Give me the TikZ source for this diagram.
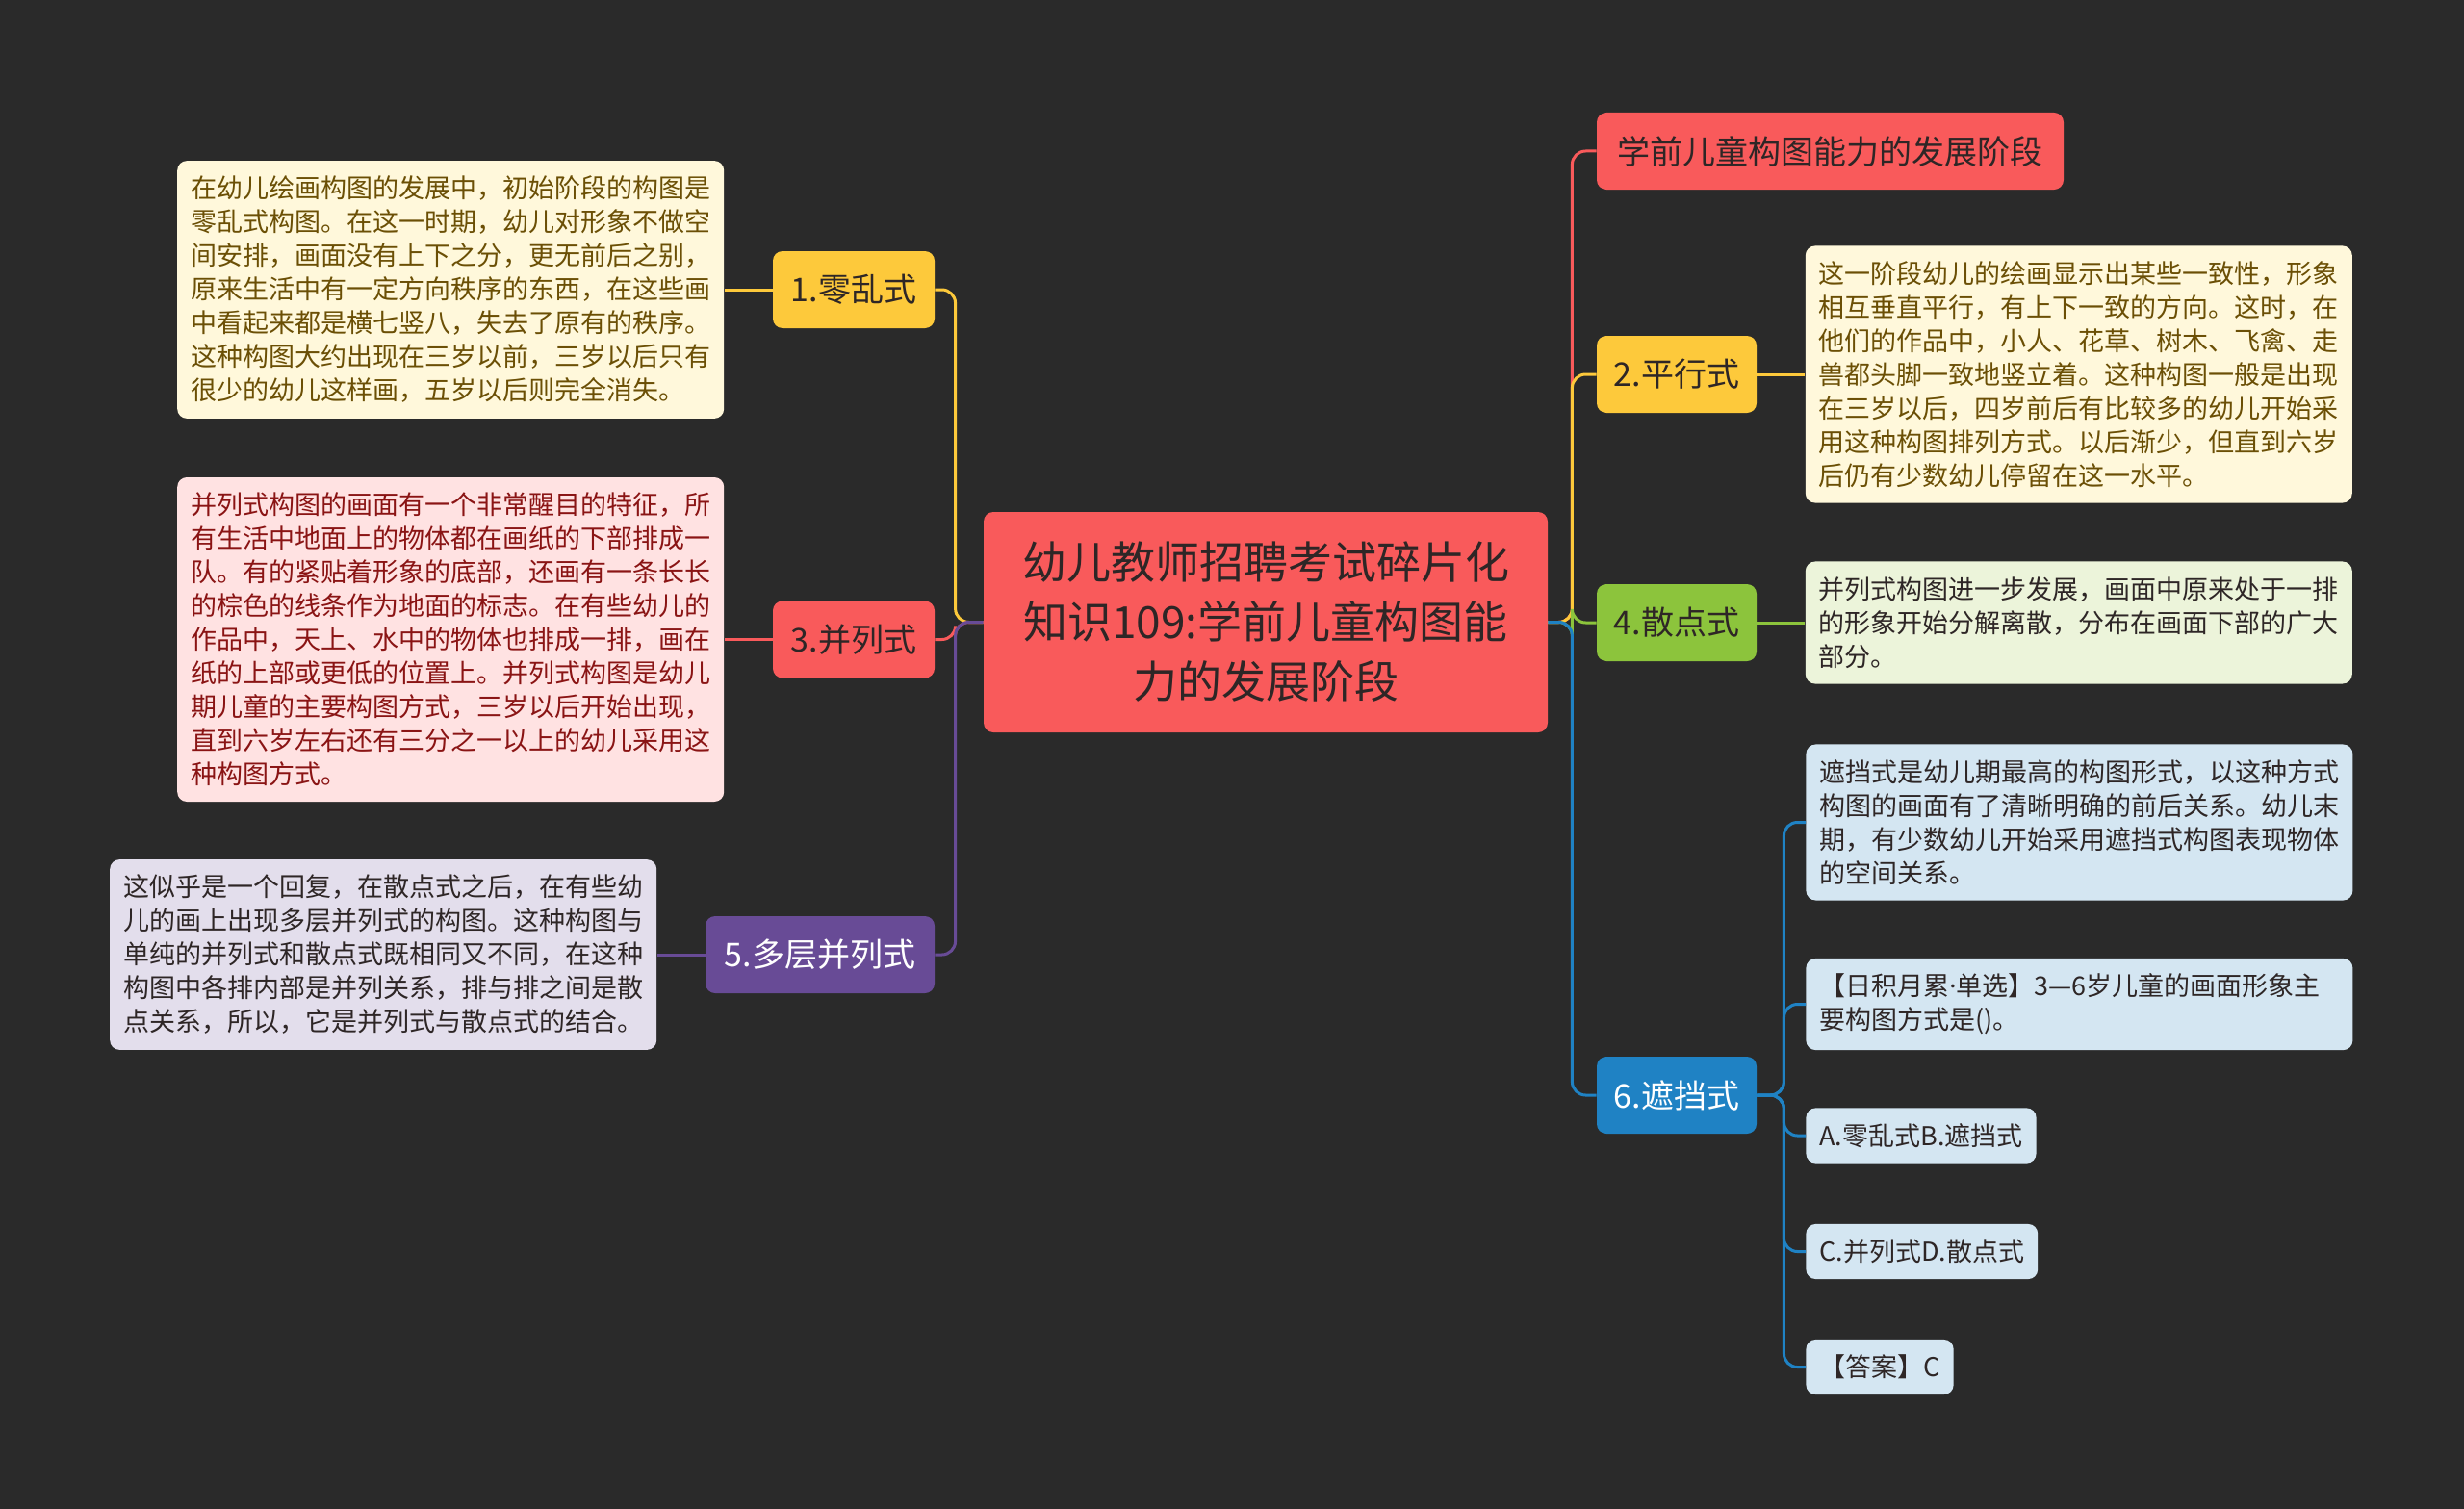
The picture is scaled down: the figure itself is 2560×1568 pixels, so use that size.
\documentclass[tikz,border=0pt]{standalone}
\usepackage{fontspec}
\setmainfont{Noto Sans CJK SC}
\newfontfamily\westfont{Noto Sans}
\usetikzlibrary{positioning}

\definecolor{bgdark}{HTML}{2A2A2A}
\definecolor{cred}{HTML}{F95A5B}
\definecolor{cyellow}{HTML}{FDC93B}
\definecolor{cgreen}{HTML}{8CC43C}
\definecolor{cpurple}{HTML}{684B96}
\definecolor{cblue}{HTML}{1F82C4}
\definecolor{inkdark}{HTML}{2E2626}
\definecolor{fcream}{HTML}{FFF8DB}
\definecolor{tcream}{HTML}{6B4F05}
\definecolor{fpink}{HTML}{FFE2E2}
\definecolor{tpink}{HTML}{8A1414}
\definecolor{flilac}{HTML}{E3DEEC}
\definecolor{flime}{HTML}{ECF4DA}
\definecolor{fsky}{HTML}{D4E6F2}

\begin{document}
\begin{tikzpicture}[x=0.5pt, y=-0.5pt,
    link/.style={line width=1.5pt, rounded corners=7pt},
    topic/.style={rounded corners=5pt, minimum height=40pt, inner sep=0pt, text=inkdark,
        font=\fontsize{17pt}{20pt}\selectfont},
    desc/.style={rounded corners=5pt, text width=270pt, inner xsep=7pt, inner ysep=8pt,
        align=left, text=inkdark, font=\fontsize{13.5pt}{17.5pt}\selectfont},
    leaf/.style={rounded corners=5pt, inner xsep=7pt, inner ysep=8pt, fill=fsky,
        text=inkdark, font=\fontsize{13.5pt}{17.5pt}\selectfont}]

    % page and background (coordinates are pixels of the 2560 x 1568 sheet)
    \useasboundingbox (0,0) rectangle (2560,1568);
    \fill[bgdark] (0,0) rectangle (2560,1568);

    % central topic
    \node[fill=cred, rounded corners=5pt, minimum width=293pt, minimum height=114.5pt,
        align=center, text=inkdark, font=\fontsize{23pt}{31pt}\selectfont]
        (ctr) at (1315,646.5) {幼儿教师招聘考试碎片化\\知识109:学前儿童构图能\\力的发展阶段};

    % left branches
    \node[topic, fill=cyellow, minimum width=84pt] (n1) at (887,301) {1.零乱式};
    \node[topic, fill=cred, minimum width=84pt] (n3) at (887,664.5) {3.并列式};
    \node[topic, fill=cpurple, minimum width=119pt, text=white] (n5) at (852,992) {5.多层并列式};

    \node[desc, fill=fcream, text=tcream, left=25pt of n1] (d1) {在幼儿绘画构图的发展中，初始阶段的构图是\\零乱式构图。在这一时期，幼儿对形象不做空\\间安排，画面没有上下之分，更无前后之别，\\原来生活中有一定方向秩序的东西，在这些画\\中看起来都是横七竖八，失去了原有的秩序。\\这种构图大约出现在三岁以前，三岁以后只有\\很少的幼儿这样画，五岁以后则完全消失。};
    \node[desc, fill=fpink, text=tpink, left=25pt of n3] (d3) {并列式构图的画面有一个非常醒目的特征，所\\有生活中地面上的物体都在画纸的下部排成一\\队。有的紧贴着形象的底部，还画有一条长长\\的棕色的线条作为地面的标志。在有些幼儿的\\作品中，天上、水中的物体也排成一排，画在\\纸的上部或更低的位置上。并列式构图是幼儿\\期儿童的主要构图方式，三岁以后开始出现，\\直到六岁左右还有三分之一以上的幼儿采用这\\种构图方式。};
    \node[desc, fill=flilac, left=25pt of n5] (d5) {这似乎是一个回复，在散点式之后，在有些幼\\儿的画上出现多层并列式的构图。这种构图与\\单纯的并列式和散点式既相同又不同，在这种\\构图中各排内部是并列关系，排与排之间是散\\点关系，所以，它是并列式与散点式的结合。};

    % right branches
    \node[topic, fill=cred, minimum width=242.5pt] (t0) at (1901.5,157) {学前儿童构图能力的发展阶段};
    \node[topic, fill=cyellow, minimum width=83pt] (n2) at (1742,389) {2.平行式};
    \node[topic, fill=cgreen, minimum width=83pt] (n4) at (1742,647) {4.散点式};
    \node[topic, fill=cblue, minimum width=83pt, text=white] (n6) at (1742,1138) {6.遮挡式};

    \node[desc, fill=fcream, text=tcream, right=25pt of n2] (d2) {这一阶段幼儿的绘画显示出某些一致性，形象\\相互垂直平行，有上下一致的方向。这时，在\\他们的作品中，小人、花草、树木、飞禽、走\\兽都头脚一致地竖立着。这种构图一般是出现\\在三岁以后，四岁前后有比较多的幼儿开始采\\用这种构图排列方式。以后渐少，但直到六岁\\后仍有少数幼儿停留在这一水平。};
    \node[desc, fill=flime, right=25pt of n4] (d4) {并列式构图进一步发展，画面中原来处于一排\\的形象开始分解离散，分布在画面下部的广大\\部分。};

    % children of 6
    \node[desc, fill=fsky, anchor=west] (d6) at (1876,854.5) {遮挡式是幼儿期最高的构图形式，以这种方式\\构图的画面有了清晰明确的前后关系。幼儿末\\期，有少数幼儿开始采用遮挡式构图表现物体\\的空间关系。};
    \node[desc, fill=fsky, anchor=west] (q6) at (1876,1043.5) {\mbox{【日积月累{\westfont ·}单选】3—6岁儿童的画面形象主}\\要构图方式是()。};
    \node[leaf, anchor=west] (oa) at (1876,1180) {A.零乱式B.遮挡式};
    \node[leaf, anchor=west] (oc) at (1876,1300.5) {C.并列式D.散点式};
    \node[leaf, anchor=west] (ans) at (1876,1420.5) {【答案】C};

    % connectors, left side
    \draw[link, cyellow] (ctr.west) -- ++(-29,0) |- (n1.east);
    \draw[link, cred] (ctr.west) -- ++(-29,0) |- (n3.east);
    \draw[link, cpurple] (ctr.west) -- ++(-29,0) |- (n5.east);
    \draw[link, cyellow] (n1.west) -- (d1.east);
    \draw[link, cred] (n3.west) -- (d3.east);
    \draw[link, cpurple] (n5.west) -- (d5.east);

    % connectors, right side
    \draw[link, cred] (ctr.east) -- ++(25,0) |- (t0.west);
    \draw[link, cyellow] (ctr.east) -- ++(25,0) |- (n2.west);
    \draw[link, cgreen] (ctr.east) -- ++(25,0) |- (n4.west);
    \draw[link, cblue] (ctr.east) -- ++(25,0) |- (n6.west);
    \draw[link, cyellow] (n2.east) -- (d2.west);
    \draw[link, cgreen] (n4.east) -- (d4.west);
    \foreach \kid in {d6, q6, oa, oc, ans}
        \draw[link, cblue] (n6.east) -- ++(28,0) |- (\kid.west);
\end{tikzpicture}
\end{document}
